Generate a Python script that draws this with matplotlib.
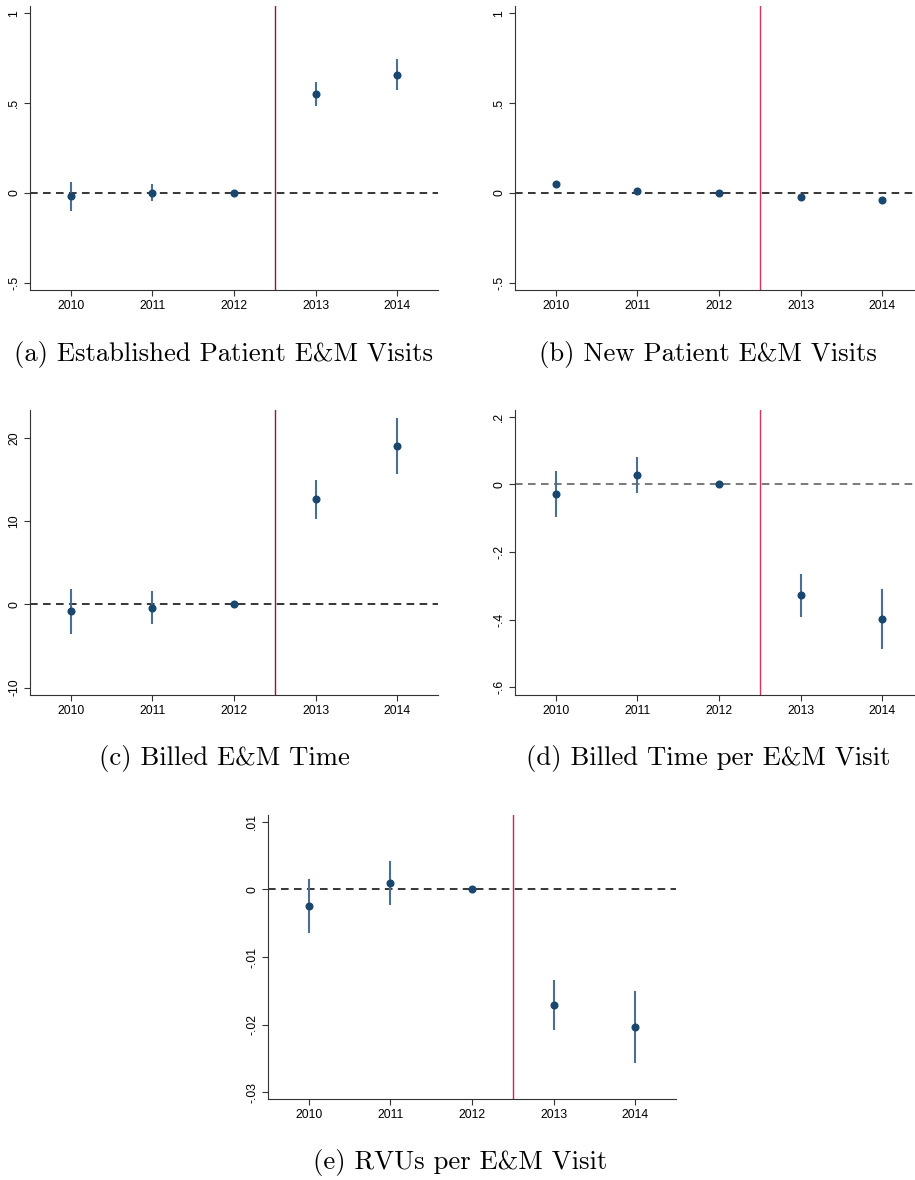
import matplotlib
matplotlib.use("Agg")
import matplotlib.pyplot as plt

years = [2010, 2011, 2012, 2013, 2014]

# (a) established patient visits
est_coef = [-0.018, 0.002, 0.0, 0.552, 0.657]
est_lo = [-0.098, -0.043, 0.0, 0.485, 0.572]
est_hi = [0.061, 0.048, 0.0, 0.618, 0.746]

# (b) new patient visits
new_coef = [0.048, 0.013, 0.0, -0.022, -0.039]
new_lo = [0.042, 0.007, 0.0, -0.028, -0.045]
new_hi = [0.054, 0.019, 0.0, -0.016, -0.033]

# (c) billed time
time_coef = [-0.84, -0.44, 0.0, 12.63, 19.08]
time_lo = [-3.55, -2.40, 0.0, 10.30, 15.71]
time_hi = [1.88, 1.56, 0.0, 14.95, 22.48]

# (d) billed time per visit
tpv_coef = [-0.0286, 0.0276, 0.0, -0.3286, -0.3977]
tpv_lo = [-0.0967, -0.0257, 0.0, -0.3918, -0.4865]
tpv_hi = [0.040, 0.082, 0.0, -0.2655, -0.3099]

# (e) RVUs per visit
rvu_coef = [-0.00246, 0.00098, 0.0, -0.01707, -0.02041]
rvu_lo = [-0.00644, -0.00226, 0.0, -0.02080, -0.02572]
rvu_hi = [0.00152, 0.00423, 0.0, -0.01333, -0.01510]

panels = [
    dict(coef=est_coef, lo=est_lo, hi=est_hi, yticks=[-0.5, 0, 0.5, 1],
         ylabels=["-.5", "0", ".5", "1"], ylim=(-0.54, 1.04),
         vcol="#9c0f3f", dcol="black",
         caption="(a) Established Patient E&M Visits"),
    dict(coef=new_coef, lo=new_lo, hi=new_hi, yticks=[-0.5, 0, 0.5, 1],
         ylabels=["-.5", "0", ".5", "1"], ylim=(-0.54, 1.04),
         vcol="#d8305f", dcol="black",
         caption="(b) New Patient E&M Visits"),
    dict(coef=time_coef, lo=time_lo, hi=time_hi, yticks=[-10, 0, 10, 20],
         ylabels=["-10", "0", "10", "20"], ylim=(-10.9, 23.4),
         vcol="#9c0f3f", dcol="black",
         caption="(c) Billed E&M Time"),
    dict(coef=tpv_coef, lo=tpv_lo, hi=tpv_hi, yticks=[-0.6, -0.4, -0.2, 0, 0.2],
         ylabels=["-.6", "-.4", "-.2", "0", ".2"], ylim=(-0.623, 0.22),
         vcol="#d8305f", dcol="#555555",
         caption="(d) Billed Time per E&M Visit"),
    dict(coef=rvu_coef, lo=rvu_lo, hi=rvu_hi, yticks=[-0.03, -0.02, -0.01, 0, 0.01],
         ylabels=["-.03", "-.02", "-.01", "0", ".01"], ylim=(-0.031, 0.011),
         vcol="#dc1f4a", dcol="black",
         caption="(e) RVUs per E&M Visit"),
]

W, H = 915, 1180
# axes boxes in pixels: left, top, right, bottom ; caption centre x, y
boxes = [
    (30, 6, 438, 290, 224, 355),
    (515, 6, 923, 290, 708, 355),
    (30, 410, 438, 695, 224, 759),
    (515, 410, 923, 695, 708, 759),
    (268, 815, 676, 1099, 460, 1162),
]

fig = plt.figure(figsize=(W / 100, H / 100), dpi=100)

for p, (l, t, r, b, cx, cy) in zip(panels, boxes):
    ax = fig.add_axes([l / W, 1 - b / H, (r - l) / W, (b - t) / H])
    ax.axhline(0, color=p["dcol"], lw=1.1, ls=(0, (5, 3.5)), zorder=1)
    ax.axvline(2012.5, color=p["vcol"], lw=1.0, zorder=1)
    ax.vlines(years, p["lo"], p["hi"], color="#4a6f96", lw=1.5, zorder=2)
    ax.plot(years, p["coef"], "o", color="#1a476f", ms=4.8, zorder=3)
    ax.set_xlim(2009.5, 2014.5)
    ax.set_ylim(*p["ylim"])
    ax.set_xticks(years)
    ax.set_xticklabels([str(y) for y in years], fontsize=8.8, family="Liberation Sans")
    ax.set_yticks(p["yticks"])
    ax.set_yticklabels(p["ylabels"], fontsize=8.8, family="Liberation Sans",
                       rotation=90, va="center")
    ax.spines["top"].set_visible(False)
    ax.spines["right"].set_visible(False)
    ax.spines["left"].set_color("#333333")
    ax.spines["bottom"].set_color("#333333")
    ax.tick_params(colors="#333333", length=4, width=0.8, pad=3, labelcolor="black")
    fig.text(cx / W, 1 - cy / H, p["caption"], ha="center", va="center",
             fontsize=19.2, family="cmr10")

fig.savefig("out.png", dpi=100)
